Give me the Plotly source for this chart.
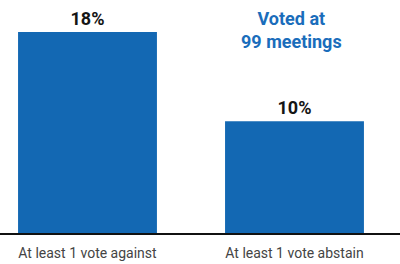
import plotly.graph_objects as go

categories = ["At least 1 vote against", "At least 1 vote abstain"]
values = [18, 10]
value_labels = ["18%", "10%"]
title_text = "Voted at<br>99 meetings"

bar_color = "#1368b3"
font_family = "Roboto, 'Open Sans', sans-serif"

fig = go.Figure()
fig.add_trace(go.Bar(
    x=categories,
    y=values,
    width=0.671,
    marker=dict(color=bar_color, line=dict(width=0)),
    text=value_labels,
    textposition="outside",
    cliponaxis=False,
    textfont=dict(family=font_family, size=18, color="#151515", weight="bold"),
    hoverinfo="skip",
))

fig.add_annotation(
    text=title_text,
    x=0.7275, xref="paper", xanchor="center",
    y=20.3, yref="y",
    yanchor="top",
    showarrow=False,
    font=dict(family=font_family, size=18, color="#1a6dbb", weight="bold"),
    align="center",
)

fig.update_layout(
    width=400, height=264,
    margin=dict(l=0, r=0, t=0, b=31),
    paper_bgcolor="white",
    plot_bgcolor="white",
    showlegend=False,
    xaxis=dict(
        type="category",
        range=[-0.4227, 1.5097],
        showline=True, linecolor="#111111", linewidth=2,
        showgrid=False, zeroline=False,
        ticks="",
        ticklabelstandoff=6,
        tickfont=dict(family=font_family, size=14, color="#444444"),
        fixedrange=True,
    ),
    yaxis=dict(
        range=[0, 20.87],
        visible=False,
        showgrid=False, zeroline=False,
        fixedrange=True,
    ),
)

fig.write_html(
    "out.html",
    config={"displayModeBar": False},
    post_script="document.body.style.margin='0';",
)
